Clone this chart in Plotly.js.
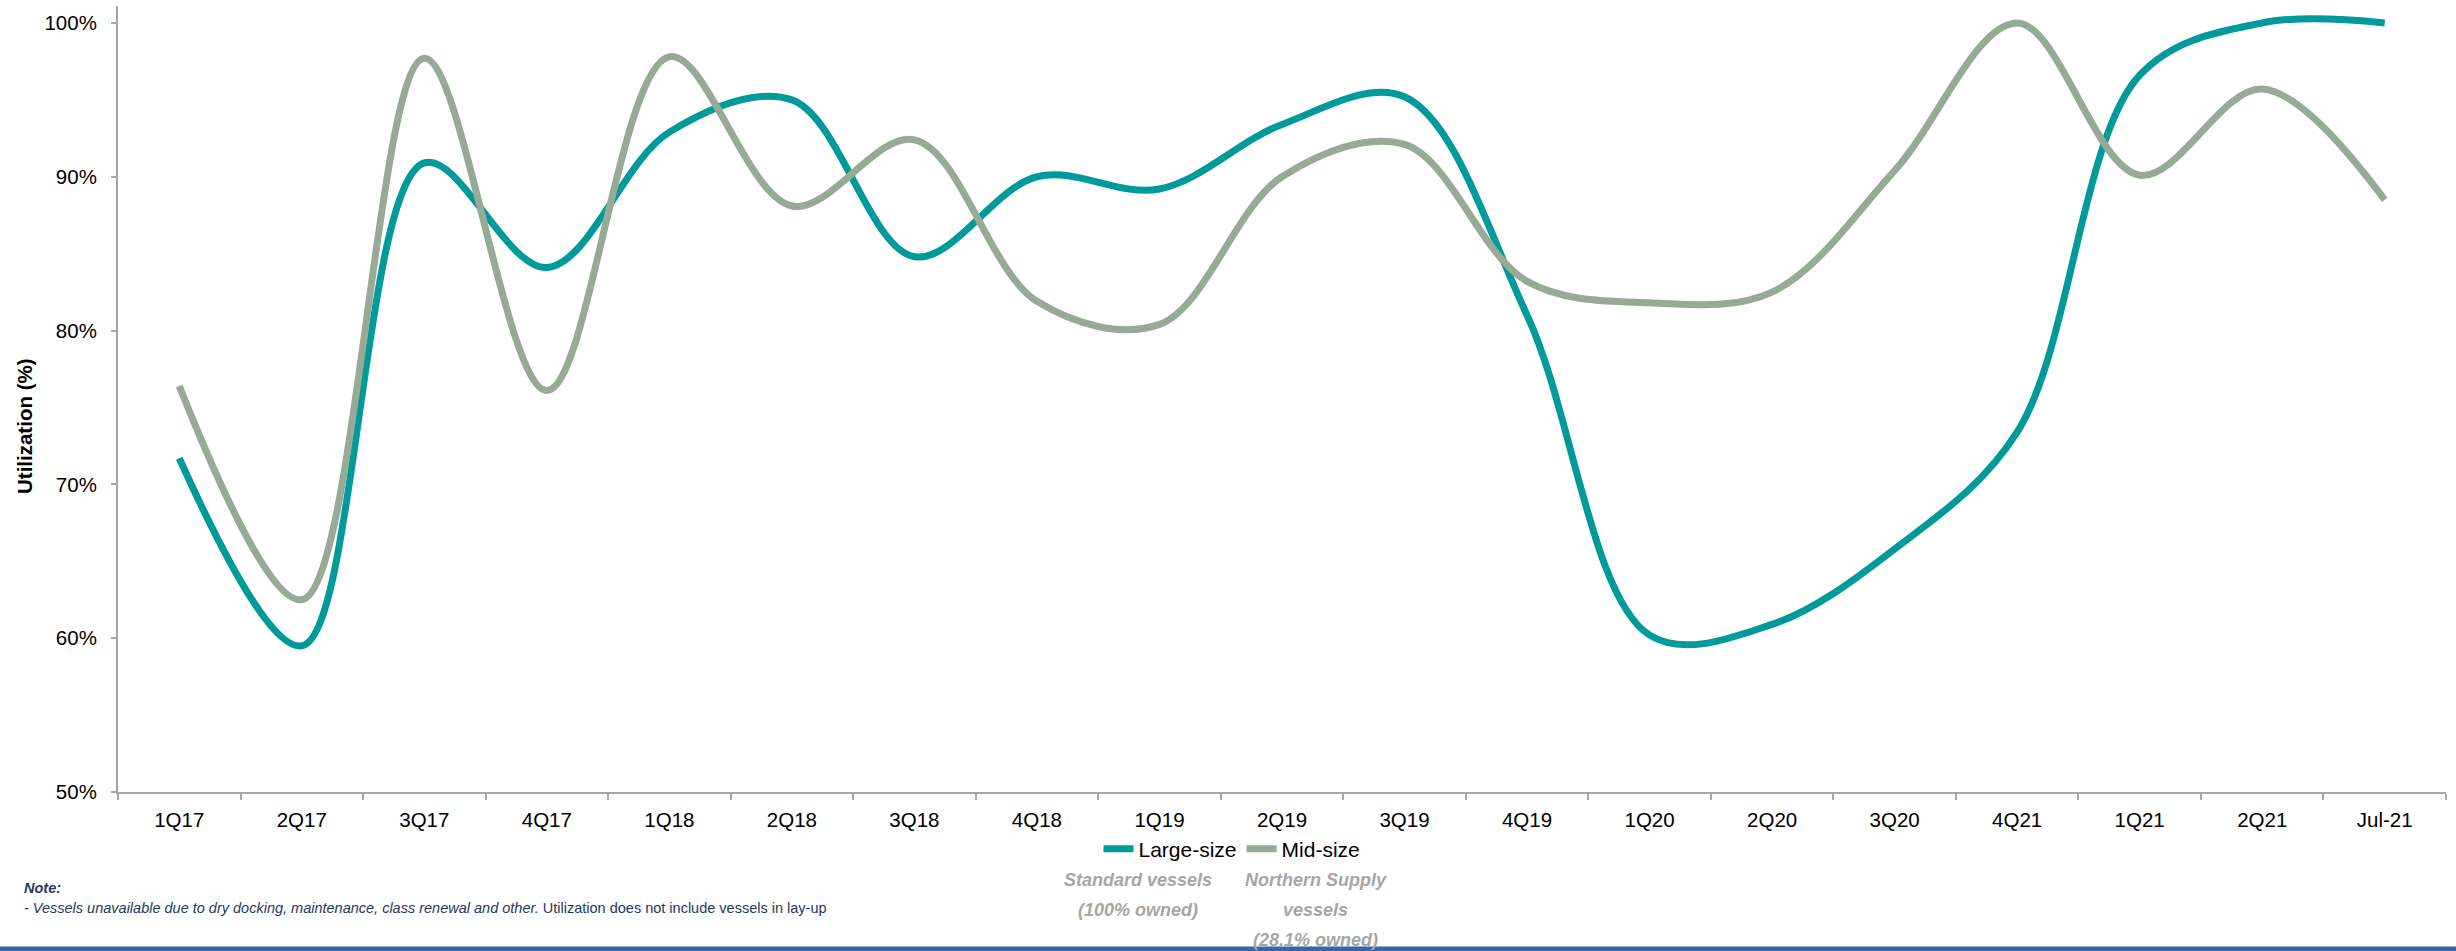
<!DOCTYPE html>
<html><head><meta charset="utf-8">
<script src="https://cdn.plot.ly/plotly-3.0.1.min.js"></script>
<style>html,body{margin:0;padding:0;background:#fff;} #chart{width:2456px;height:951px;}</style>
</head><body><div id="chart"></div>
<script>
const categories = ['1Q17','2Q17','3Q17','4Q17','1Q18','2Q18','3Q18','4Q18','1Q19','2Q19','3Q19','4Q19','1Q20','2Q20','3Q20','4Q21','1Q21','2Q21','Jul-21'];
const largeSize = [71.7, 59.5, 90.9, 84.1, 92.9, 95.0, 84.8, 90.0, 89.2, 93.4, 95.2, 81.0, 60.2, 60.9, 65.8, 73.4, 96.6, 100.0, 100.0];
const midSize   = [76.4, 62.5, 97.7, 76.1, 97.8, 88.1, 92.4, 81.9, 80.4, 90.0, 92.1, 83.2, 81.8, 82.5, 90.4, 100.0, 90.1, 95.7, 88.5];
const yTickVals = [50, 60, 70, 80, 90, 100];
const yTickText = ['50%', '60%', '70%', '80%', '90%', '100%'];
const seriesNames = ['Large-size', 'Mid-size'];
const yTitle = 'Utilization (%)';
const legendNotesLarge = ['Standard vessels', '(100% owned)'];
const legendNotesMid = ['Northern Supply', 'vessels', '(28.1% owned)'];
const noteTitle = 'Note:';
const noteItalic = '- Vessels unavailable due to dry docking, maintenance, class renewal and other.';
const noteRegular = ' Utilization does not include vessels in lay-up';

// layout helpers (plot area: x 118..2446, y 6..792 px)
const L = 118, R = 2446, T = 6, B = 792;
const px2x = p => (p - L) / (R - L);
const px2y = p => (B - p) / (B - T);

const FONT = 'Liberation Sans, Arial, sans-serif';
const AXIS_COLOR = '#a6a6a6';

const traces = [
  {x: categories, y: largeSize, name: seriesNames[0], type: 'scatter', mode: 'lines',
   line: {shape: 'spline', smoothing: 1, width: 7, color: '#009a9a'}},
  {x: categories, y: midSize, name: seriesNames[1], type: 'scatter', mode: 'lines',
   line: {shape: 'spline', smoothing: 1, width: 7, color: '#97aa95'}}
];

const annotations = [];
annotations.push({xref: 'paper', yref: 'paper', x: px2x(24), y: px2y(426), text: '<b>' + yTitle + '</b>',
  textangle: -90, showarrow: false, xanchor: 'center', yanchor: 'middle',
  font: {family: FONT, size: 20.5, color: '#000'}});
const subFont = {family: FONT, size: 18, color: '#a6a6a6'};
const lineYs = [880, 910, 940];
legendNotesLarge.forEach((t, i) => annotations.push({xref: 'paper', yref: 'paper', x: px2x(1138), y: px2y(lineYs[i]),
  text: '<b><i>' + t + '</i></b>', showarrow: false, xanchor: 'center', yanchor: 'middle', font: subFont}));
legendNotesMid.forEach((t, i) => annotations.push({xref: 'paper', yref: 'paper', x: px2x(1316), y: px2y(lineYs[i]),
  text: '<b><i>' + t + '</i></b>', showarrow: false, xanchor: 'center', yanchor: 'middle', font: subFont}));
const noteFont = {family: FONT, size: 14.5, color: '#1f3864'};
annotations.push({xref: 'paper', yref: 'paper', x: px2x(22), y: px2y(888), text: '<b><i>' + noteTitle + '</i></b>',
  showarrow: false, xanchor: 'left', yanchor: 'middle', font: noteFont});
annotations.push({xref: 'paper', yref: 'paper', x: px2x(22), y: px2y(908), text: '<i>' + noteItalic + '</i>' + noteRegular,
  showarrow: false, xanchor: 'left', yanchor: 'middle', font: noteFont});

const layout = {
  width: 2456, height: 951,
  margin: {l: L, r: 2456 - R, t: T, b: 951 - B, pad: 0},
  paper_bgcolor: '#fff', plot_bgcolor: '#fff',
  font: {family: FONT, color: '#000'},
  showlegend: true,
  legend: {orientation: 'h', x: px2x(1232), xanchor: 'center', y: px2y(849), yanchor: 'middle',
           font: {family: FONT, size: 21, color: '#000'}, bgcolor: 'rgba(0,0,0,0)'},
  xaxis: {type: 'category', range: [-0.5, categories.length - 0.5], showline: true, linecolor: AXIS_COLOR, linewidth: 2,
          ticks: 'outside', tickson: 'boundaries', ticklen: 6, tickwidth: 2, tickcolor: AXIS_COLOR,
          showgrid: false, zeroline: false, ticklabelstandoff: 8,
          tickfont: {family: FONT, size: 20.5, color: '#000'}, fixedrange: true},
  yaxis: {range: [50, 101.1], tickvals: yTickVals, ticktext: yTickText, showline: true,
          linecolor: AXIS_COLOR, linewidth: 2, ticks: 'outside', ticklen: 5, tickwidth: 2, tickcolor: AXIS_COLOR,
          showgrid: false, zeroline: false, ticklabelstandoff: 10,
          tickfont: {family: FONT, size: 20.5, color: '#000'}, fixedrange: true},
  annotations: annotations,
  shapes: [{type: 'line', xref: 'paper', yref: 'paper', x0: px2x(0), x1: px2x(2456), y0: px2y(949), y1: px2y(949),
            line: {color: '#2f69a8', width: 5}, layer: 'above'}]
};

Plotly.newPlot('chart', traces, layout, {displayModeBar: false, staticPlot: true});
</script>
</body></html>
